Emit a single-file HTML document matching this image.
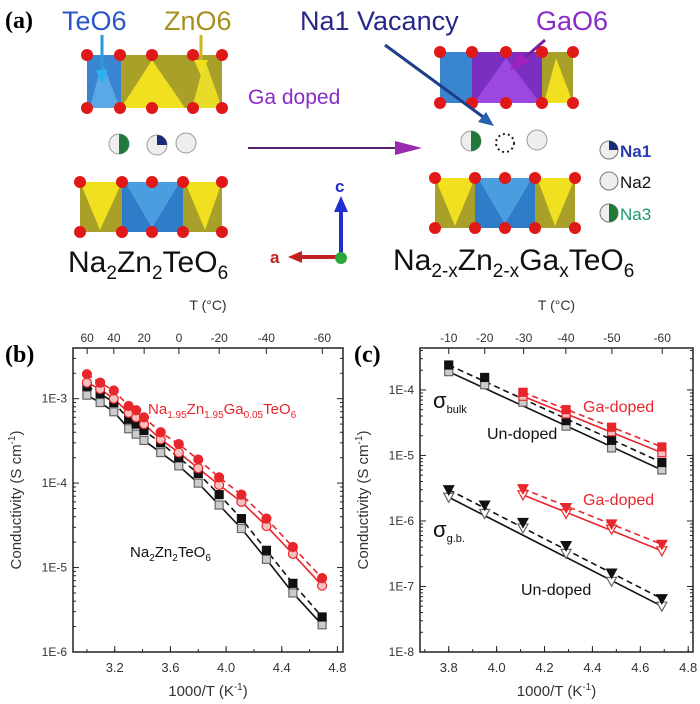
<!DOCTYPE html>
<html><head><meta charset="utf-8"><style>
body{margin:0;background:#fff;}
svg{display:block;font-family:"Liberation Sans",sans-serif;}
</style></head><body>
<svg id="fig" width="700" height="704" viewBox="0 0 700 704" xmlns="http://www.w3.org/2000/svg">
<g id="panelA">
  <text x="5" y="28" font-family="Liberation Serif" font-weight="bold" font-size="24">(a)</text>
  <text x="62" y="30" font-size="27" fill="#2a55c8">TeO6</text>
  <text x="164" y="30" font-size="27" fill="#a8901e">ZnO6</text>
  <text x="300" y="30" font-size="27" fill="#25288a">Na1 Vacancy</text>
  <text x="536" y="30" font-size="27" fill="#8a2bc8">GaO6</text>
  <g>
    <rect x="87" y="55" width="34" height="53" fill="#3a85d0"/>
    <rect x="121" y="55" width="101" height="53" fill="#a8a028"/>
    <polygon points="121,108 152,60 185,108" fill="#f0e020"/>
    <polygon points="192,108 205,60 222,108" fill="#e8dc28"/>
    <polygon points="90,108 102,62 120,108" fill="#5aa8e8"/>
  </g>
  <g>
    <rect x="80" y="182" width="142" height="50" fill="#a8a028"/>
    <polygon points="80,182 100,230 122,182" fill="#f0e020"/>
    <rect x="122" y="182" width="61" height="50" fill="#2f7cc8"/>
    <polygon points="125,182 152,228 180,182" fill="#4a9ee0"/>
    <polygon points="185,182 205,230 222,182" fill="#f0e020"/>
  </g>
  <g>
    <rect x="440" y="52" width="133" height="51" fill="#a8a028"/>
    <rect x="440" y="52" width="32" height="51" fill="#3a85d0"/>
    <rect x="472" y="52" width="70" height="51" fill="#7a2fc0"/>
    <polygon points="474,103 506,58 540,103" fill="#9a48e0"/>
    <polygon points="544,103 556,58 573,103" fill="#f0e020"/>
  </g>
  <g>
    <rect x="435" y="178" width="140" height="50" fill="#a8a028"/>
    <polygon points="435,178 455,226 475,178" fill="#f0e020"/>
    <rect x="475" y="178" width="60" height="50" fill="#2f7cc8"/>
    <polygon points="478,178 505,224 532,178" fill="#4a9ee0"/>
    <polygon points="537,178 555,226 575,178" fill="#f0e020"/>
  </g>
  <g id="oxy" fill="#e01818"></g>
  <line x1="102" y1="35" x2="102" y2="75" stroke="#2a9ad8" stroke-width="3"/>
  <polygon points="96,70 108,70 102,84" fill="#2ab0f0"/>
  <line x1="201" y1="35" x2="201" y2="65" stroke="#c8b820" stroke-width="3"/>
  <polygon points="194,60 208,60 201,76" fill="#f0e020"/>
  <line x1="385" y1="45" x2="490" y2="122" stroke="#1d3f8a" stroke-width="3"/>
  <polygon points="478,122 494,126 486,112" fill="#2a60b0"/>
  <line x1="545" y1="40" x2="520" y2="62" stroke="#7a1fa0" stroke-width="3"/>
  <polygon points="510,70 530,62 518,52" fill="#a020c0"/>
  <text x="248" y="104" font-size="21" fill="#8a2bc8">Ga doped</text>
  <line x1="248" y1="148" x2="405" y2="148" stroke="#5a2070" stroke-width="2"/>
  <polygon points="395,141 422,148 395,155" fill="#9a2ab0"/>
  <g>
    <circle cx="119" cy="144" r="10" fill="#eee" stroke="#999"/>
    <path d="M119,134 A10,10 0 0 1 119,154 Z" fill="#1f7a3a"/>
    <circle cx="157" cy="145" r="10" fill="#eee" stroke="#999"/>
    <path d="M157,145 L157,135 A10,10 0 0 1 167,145 Z" fill="#1a2a7a"/>
    <circle cx="186" cy="143" r="10" fill="#eee" stroke="#999"/>
  </g>
  <g>
    <circle cx="471" cy="141" r="10" fill="#eee" stroke="#999"/>
    <path d="M471,131 A10,10 0 0 1 471,151 Z" fill="#1f7a3a"/>
    <circle cx="505" cy="143" r="9" fill="none" stroke="#222" stroke-width="2" stroke-dasharray="2,3"/>
    <circle cx="537" cy="140" r="10" fill="#eee" stroke="#999"/>
  </g>
  <g>
    <circle cx="609" cy="150" r="9" fill="#eee" stroke="#777"/>
    <path d="M609,150 L609,141 A9,9 0 0 1 618,150 Z" fill="#1a2a7a"/>
    <text x="620" y="157" font-size="17" font-weight="bold" fill="#2a3ab0">Na1</text>
    <circle cx="609" cy="181" r="9" fill="#eee" stroke="#777"/>
    <text x="620" y="188" font-size="17" fill="#111">Na2</text>
    <circle cx="609" cy="213" r="9" fill="#eee" stroke="#777"/>
    <path d="M609,204 A9,9 0 0 1 609,222 Z" fill="#1f7a3a"/>
    <text x="620" y="220" font-size="17" fill="#1a9a6a">Na3</text>
  </g>
  <g>
    <line x1="341" y1="257" x2="341" y2="210" stroke="#2030d0" stroke-width="4"/>
    <polygon points="334,212 348,212 341,196" fill="#2030d0"/>
    <text x="335" y="192" font-size="17" font-weight="bold" fill="#2030d0">c</text>
    <line x1="341" y1="257" x2="300" y2="257" stroke="#c02020" stroke-width="4"/>
    <polygon points="302,251 302,263 288,257" fill="#c02020"/>
    <text x="270" y="263" font-size="17" font-weight="bold" fill="#c02020">a</text>
    <circle cx="341" cy="258" r="6" fill="#28a838"/>
  </g>
  <text x="68" y="272" font-size="30" fill="#111">Na<tspan font-size="19" dy="7">2</tspan><tspan dy="-7">Zn</tspan><tspan font-size="19" dy="7">2</tspan><tspan dy="-7">TeO</tspan><tspan font-size="19" dy="7">6</tspan></text>
  <text x="393" y="270" font-size="30" fill="#111">Na<tspan font-size="19" dy="7">2-x</tspan><tspan dy="-7">Zn</tspan><tspan font-size="19" dy="7">2-x</tspan><tspan dy="-7">Ga</tspan><tspan font-size="19" dy="7">x</tspan><tspan dy="-7">TeO</tspan><tspan font-size="19" dy="7">6</tspan></text>
</g>
<text x="5" y="362" font-family="Liberation Serif" font-weight="bold" font-size="24">(b)</text>
<text x="354" y="362" font-family="Liberation Serif" font-weight="bold" font-size="24">(c)</text>
<g id="chartB"></g>
<g id="chartC"></g>
</svg>
<script>
// ---- Panel B data ----
const bX = [3.0, 3.095, 3.193, 3.30, 3.354, 3.41, 3.53, 3.66, 3.80, 3.95, 4.11, 4.29, 4.48, 4.69];
const bRedFilled = [1.95e-3,1.55e-3,1.25e-3,8.2e-4,7.3e-4,6e-4,4e-4,2.9e-4,1.9e-4,1.17e-4,7.3e-5,3.8e-5,1.75e-5,7.5e-6];
const bRedOpen = [1.55e-3,1.3e-3,1.0e-3,6.8e-4,6e-4,5e-4,3.3e-4,2.3e-4,1.5e-4,9.5e-5,6e-5,3.1e-5,1.45e-5,6.1e-6];
const bBlackFilled = [1.4e-3,1.15e-3,9e-4,5.7e-4,5e-4,4.2e-4,3e-4,2e-4,1.3e-4,7.3e-5,3.8e-5,1.6e-5,6.5e-6,2.6e-6];
const bBlackOpen = [1.1e-3,9e-4,7e-4,4.4e-4,3.8e-4,3.2e-4,2.3e-4,1.6e-4,1e-4,5.5e-5,2.9e-5,1.25e-5,5e-6,2.1e-6];
const bXTicks = [3.2, 3.6, 4.0, 4.4, 4.8];
const bXTickLabels = ["3.2","3.6","4.0","4.4","4.8"];
const bYTicks = [-6,-5,-4,-3];
const bYTickLabels = ["1E-6","1E-5","1E-4","1E-3"];
const bTopTemps = [60,40,20,0,-20,-40,-60];
// ---- Panel C data ----
const cX = [3.80, 3.95, 4.11, 4.29, 4.48, 4.69];
const cXGa = [4.11, 4.29, 4.48, 4.69];
const cBulkUnFilled = [2.4e-4,1.55e-4,9e-5,3.4e-5,1.7e-5,7.8e-6];
const cBulkUnOpen = [1.9e-4,1.2e-4,6.5e-5,2.8e-5,1.3e-5,6e-6];
const cBulkGaFilled = [9.2e-5,5e-5,2.7e-5,1.35e-5];
const cBulkGaOpen = [8e-5,4.3e-5,2.3e-5,1.1e-5];
const cGbUnFilled = [3e-6,1.75e-6,9.5e-7,4.2e-7,1.6e-7,6.5e-8];
const cGbUnOpen = [2.3e-6,1.3e-6,7.8e-7,3.2e-7,1.2e-7,5e-8];
const cGbGaFilled = [3.1e-6,1.6e-6,9e-7,4.4e-7];
const cGbGaOpen = [2.5e-6,1.3e-6,7.5e-7,3.5e-7];
const cXTicks = [3.8,4.0,4.2,4.4,4.6,4.8];
const cXTickLabels = ["3.8","4.0","4.2","4.4","4.6","4.8"];
const cYTicks = [-8,-7,-6,-5,-4];
const cYTickLabels = ["1E-8","1E-7","1E-6","1E-5","1E-4"];
const cTopTemps = [-10,-20,-30,-40,-50,-60];

const NS="http://www.w3.org/2000/svg";
function mk(parent,tag,attrs,txt){const e=document.createElementNS(NS,tag);for(const k in attrs)e.setAttribute(k,attrs[k]);if(txt!==undefined)e.textContent=txt;parent.appendChild(e);return e;}
const RED="#e8262c";

(function(){
  const g=document.getElementById('oxy');
  const sets=[[[87,120,152,193,222],[55,108]],[[80,122,152,183,222],[182,232]],[[440,472,506,542,573],[52,103]],[[435,475,505,535,575],[178,228]]];
  sets.forEach(s=>s[0].forEach(x=>s[1].forEach(y=>{const c=mk(g,'circle',{cx:x,cy:y,r:6});
  
  })));
})();

function makeChart(gid,box,xmin,xmax,ymin,ymax,opts){
  const g=document.getElementById(gid);
  const sx=v=>box.l+(v-xmin)/(xmax-xmin)*(box.r-box.l);
  const sy=v=>box.b-(Math.log10(v)-ymin)/(ymax-ymin)*(box.b-box.t);
  const syl=l=>box.b-(l-ymin)/(ymax-ymin)*(box.b-box.t);
  const fr=mk(g,'rect',{x:box.l,y:box.t,width:box.r-box.l,height:box.b-box.t,fill:'none',stroke:'#222','stroke-width':1.5});
  
  
  opts.xt.forEach((v,i)=>{const x=sx(v);
    mk(g,'line',{x1:x,y1:box.b,x2:x,y2:box.b-6,stroke:'#222'});
    const t=mk(g,'text',{x:x,y:box.b+20,'text-anchor':'middle','font-size':13,fill:'#333'},opts.xl[i]);
    
    
  });
  for(let v=opts.xt[0]-opts.xminor;v<=xmax+1e-9;v+=opts.xminor){ if(v<xmin)continue; const x=sx(v);
    mk(g,'line',{x1:x,y1:box.b,x2:x,y2:box.b-3,stroke:'#222'});}
  opts.yt.forEach((l,i)=>{const y=syl(l);
    mk(g,'line',{x1:box.l,y1:y,x2:box.l+6,y2:y,stroke:'#222'});
    mk(g,'line',{x1:box.r,y1:y,x2:box.r-6,y2:y,stroke:'#222'});
    const t=mk(g,'text',{x:box.l-6,y:y+4,'text-anchor':'end','font-size':12,fill:'#333'},opts.yl[i]);
    
    
    for(let m=2;m<10;m++){const ll=l+Math.log10(m); if(ll>ymax)break; const yy=syl(ll);
      mk(g,'line',{x1:box.l,y1:yy,x2:box.l+3,y2:yy,stroke:'#222'});
      mk(g,'line',{x1:box.r,y1:yy,x2:box.r-3,y2:yy,stroke:'#222'});}
  });
  opts.temps.forEach(T=>{const x=sx(1000/(T+273.15));
    mk(g,'line',{x1:x,y1:box.t,x2:x,y2:box.t+6,stroke:'#222'});
    const t=mk(g,'text',{x:x,y:box.t-6,'text-anchor':'middle','font-size':12,fill:'#333'},String(T));
    
    
  });
  const tt=mk(g,'text',{x:(box.l+box.r)/2,y:box.t-38,'text-anchor':'middle','font-size':14,fill:'#333'},'T (°C)');
  
  
  const xt=mk(g,'text',{x:(box.l+box.r)/2,y:box.b+44,'text-anchor':'middle','font-size':15,fill:'#333'});
  xt.innerHTML='1000/T (K<tspan font-size="10" dy="-6">-1</tspan><tspan dy="6">)</tspan>';
  
  
  const cy=(box.t+box.b)/2, cx=box.l-52;
  const yt=mk(g,'text',{x:cx,y:cy,'text-anchor':'middle','font-size':15,fill:'#333',transform:`rotate(-90 ${cx} ${cy})`});
  yt.innerHTML='Conductivity (S cm<tspan font-size="10" dy="-6">-1</tspan><tspan dy="6">)</tspan>';
  
  
  return {g,sx,sy};
}
function line(c,xs,ys,color,dash,name,fit){
  let pts;
  if(fit){pts=[[c.sx(xs[0]),c.sy(ys[0])],[c.sx(xs[xs.length-1]),c.sy(ys[ys.length-1])]];}
  else pts=xs.map((x,i)=>[c.sx(x),c.sy(ys[i])]);
  const p=mk(c.g,'polyline',{points:pts.map(p=>p.join(',')).join(' '),fill:'none',stroke:color,'stroke-width':1.6,'stroke-dasharray':dash?'6,4':'none'});
  
  
}
function markers(c,xs,ys,shape,fill,stroke,name){
  xs.forEach((x,i)=>{const X=c.sx(x),Y=c.sy(ys[i]);let m;
    if(shape==='circle') m=mk(c.g,'circle',{cx:X,cy:Y,r:4.5,fill,stroke,'stroke-width':1.2});
    else if(shape==='square') m=mk(c.g,'rect',{x:X-4,y:Y-4,width:8,height:8,fill,stroke,'stroke-width':1.2});
    else m=mk(c.g,'polygon',{points:`${X-5},${Y-4} ${X+5},${Y-4} ${X},${Y+5}`,fill,stroke,'stroke-width':1.2});
    
    
  });
}
const B=makeChart('chartB',{l:73,r:343,t:348,b:652},2.9,4.84,-6,-2.4,{xt:bXTicks,xl:bXTickLabels,xminor:0.2,yt:bYTicks,yl:bYTickLabels,temps:bTopTemps});
line(B,bX,bBlackOpen,'#111',false,'undoped-total-fit');
line(B,bX,bBlackFilled,'#111',true,'undoped-bulk-fit');
line(B,bX,bRedOpen,RED,false,'doped-total-fit');
line(B,bX,bRedFilled,RED,true,'doped-bulk-fit');
markers(B,bX,bBlackOpen,'square','#ccc','#666','undoped-open-point');
markers(B,bX,bBlackFilled,'square','#111','#111','undoped-filled-point');
markers(B,bX,bRedOpen,'circle','#f4c0c0',RED,'doped-open-point');
markers(B,bX,bRedFilled,'circle',RED,RED,'doped-filled-point');
(function(){const t=mk(B.g,'text',{x:148,y:414,'font-size':15,fill:RED});
t.innerHTML='Na<tspan font-size="10" dy="4">1.95</tspan><tspan dy="-4">Zn</tspan><tspan font-size="10" dy="4">1.95</tspan><tspan dy="-4">Ga</tspan><tspan font-size="10" dy="4">0.05</tspan><tspan dy="-4">TeO</tspan><tspan font-size="10" dy="4">6</tspan>';


const t2=mk(B.g,'text',{x:130,y:557,'font-size':15,fill:'#111'});
t2.innerHTML='Na<tspan font-size="10" dy="4">2</tspan><tspan dy="-4">Zn</tspan><tspan font-size="10" dy="4">2</tspan><tspan dy="-4">TeO</tspan><tspan font-size="10" dy="4">6</tspan>';

})();
const C=makeChart('chartC',{l:420,r:693,t:348,b:652},3.68,4.82,-8,-3.36,{xt:cXTicks,xl:cXTickLabels,xminor:0.1,yt:cYTicks,yl:cYTickLabels,temps:cTopTemps});
line(C,cX,cBulkUnOpen,'#111',false,'bulk-undoped-fit',true);
line(C,cX,cBulkUnFilled,'#111',true,'bulk-undoped-dashed-fit',true);
line(C,cXGa,cBulkGaOpen,RED,false,'bulk-doped-fit',true);
line(C,cXGa,cBulkGaFilled,RED,true,'bulk-doped-dashed-fit',true);
line(C,cX,cGbUnOpen,'#111',false,'gb-undoped-fit',true);
line(C,cX,cGbUnFilled,'#111',true,'gb-undoped-dashed-fit',true);
line(C,cXGa,cGbGaOpen,RED,false,'gb-doped-fit',true);
line(C,cXGa,cGbGaFilled,RED,true,'gb-doped-dashed-fit',true);
markers(C,cX,cBulkUnOpen,'square','#ccc','#666','bulk-undoped-open-point');
markers(C,cX,cBulkUnFilled,'square','#111','#111','bulk-undoped-filled-point');
markers(C,cXGa,cBulkGaOpen,'square','#f4c0c0',RED,'bulk-doped-open-point');
markers(C,cXGa,cBulkGaFilled,'square',RED,RED,'bulk-doped-filled-point');
markers(C,cX,cGbUnOpen,'tri','#fff','#666','gb-undoped-open-point');
markers(C,cX,cGbUnFilled,'tri','#111','#111','gb-undoped-filled-point');
markers(C,cXGa,cGbGaOpen,'tri','#fff',RED,'gb-doped-open-point');
markers(C,cXGa,cGbGaFilled,'tri',RED,RED,'gb-doped-filled-point');
(function(){
const L=[[433,408,'σ<tspan font-size="11" dy="5">bulk</tspan>','#111',22,'sigma-bulk-label'],
[433,537,'σ<tspan font-size="11" dy="5">g.b.</tspan>','#111',22,'sigma-gb-label'],
[583,412,'Ga-doped',RED,16,'bulk-ga-doped-label'],
[583,505,'Ga-doped',RED,16,'gb-ga-doped-label'],
[487,439,'Un-doped','#111',16,'bulk-undoped-label'],
[521,595,'Un-doped','#111',16,'gb-undoped-label']];
L.forEach(a=>{const t=mk(C.g,'text',{x:a[0],y:a[1],'font-size':a[4],fill:a[3]});t.innerHTML=a[2];

});
})();
</script>
</body></html>
